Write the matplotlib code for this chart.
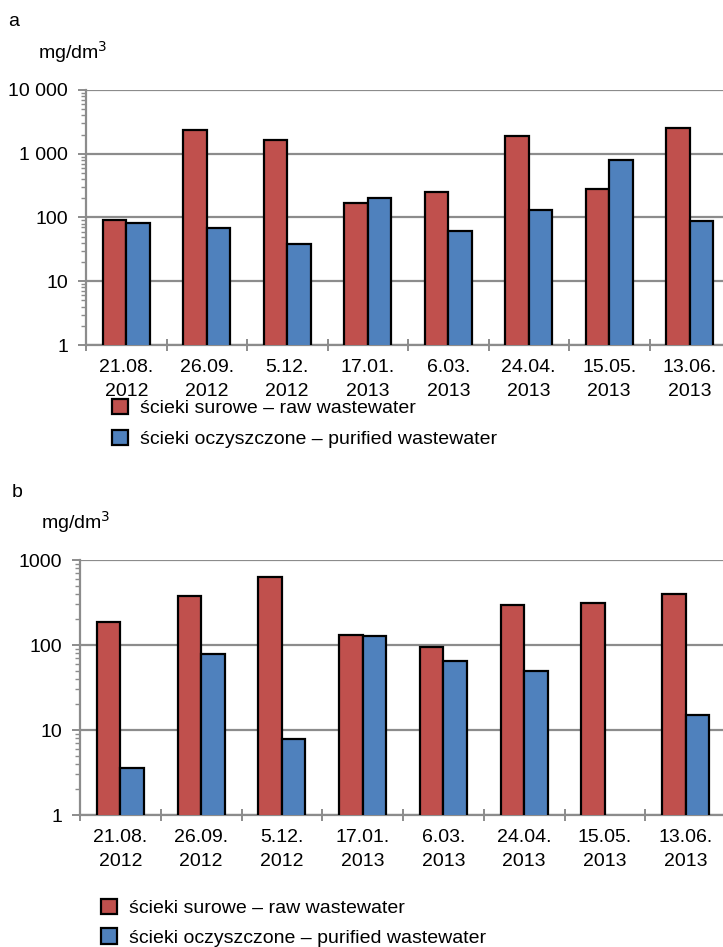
import numpy as np
import matplotlib
matplotlib.use("Agg")
import matplotlib.pyplot as plt
from matplotlib.ticker import FixedLocator, LogLocator, NullFormatter, FixedFormatter

plt.rcParams['font.family'] = ['Liberation Sans', 'DejaVu Sans']
plt.rcParams['font.size'] = 14

dates = ['21.08.\n2012', '26.09.\n2012', '5.12.\n2012', '17.01.\n2013',
         '6.03.\n2013', '24.04.\n2013', '15.05.\n2013', '13.06.\n2013']

# panel a
raw_a = [91, 2320, 1620, 166, 247, 1890, 275, 2490]
pur_a = [81, 69, 38, 204, 62, 129, 785, 88]
yticks_a = [1, 10, 100, 1000, 10000]
ylabels_a = ['1', '10', '100', '1 000', '10 000']

# panel b
raw_b = [186, 377, 624, 132, 96, 298, 309, 402]
pur_b = [3.55, 78, 7.8, 128, 64, 49, np.nan, 15]
yticks_b = [1, 10, 100, 1000]
ylabels_b = ['1', '10', '100', '1000']

names = ['ścieki surowe – raw wastewater', 'ścieki oczyszczone – purified wastewater']
RED = '#C0504D'
BLUE = '#4F81BD'
GRID = '#8c8c8c'

fig = plt.figure(figsize=(7.23, 9.47), dpi=100)


def draw(ax, raw, pur, yticks, ylabels):
    x = np.arange(len(dates))
    w = 0.29
    ax.bar(x - w / 2, raw, w, color=RED, edgecolor='black', linewidth=1.6, zorder=3, label=names[0])
    ax.bar(x + w / 2, pur, w, color=BLUE, edgecolor='black', linewidth=1.6, zorder=3, label=names[1])
    ax.set_yscale('log')
    ax.set_ylim(yticks[0], yticks[-1])
    ax.set_xlim(-0.5, len(dates) - 0.5)
    ax.yaxis.set_major_locator(FixedLocator(yticks))
    ax.yaxis.set_major_formatter(FixedFormatter(ylabels))
    ax.yaxis.set_minor_locator(LogLocator(base=10, subs=np.arange(2, 10)))
    ax.yaxis.set_minor_formatter(NullFormatter())
    ax.grid(axis='y', which='major', color=GRID, linewidth=1.6, zorder=0)
    for s in ['top', 'right']:
        ax.spines[s].set_visible(False)
    for s in ['left', 'bottom']:
        ax.spines[s].set_color(GRID)
        ax.spines[s].set_linewidth(1.6)
    ax.tick_params(axis='y', which='major', length=6, width=1.4, color=GRID, pad=7)
    ax.tick_params(axis='y', which='minor', length=3.5, width=1.0, color=GRID)
    # category boundaries on x axis
    ax.set_xticks(np.arange(len(dates) + 1) - 0.5)
    ax.set_xticklabels([])
    ax.set_xticks(x, minor=True)
    ax.set_xticklabels(dates, minor=True, linespacing=1.55)
    ax.tick_params(axis='x', which='major', direction='inout', length=9, width=1.4, color=GRID)
    ax.tick_params(axis='x', which='minor', length=0, pad=10)
    ax.set_axisbelow(True)


ax1 = fig.add_axes([86 / 723, 1 - 345 / 947, 644 / 723, 255 / 947])
draw(ax1, raw_a, pur_a, yticks_a, ylabels_a)
fig.text(8 / 723, 1 - 22 / 947, 'a', va='center')
fig.text(38 / 723, 1 - 52 / 947, 'mg/dm$^3$', va='center')
ax1.legend(loc='upper left', bbox_to_anchor=(102 / 723, 1 - 389 / 947),
           bbox_transform=fig.transFigure, frameon=False, handlelength=0.85,
           handleheight=0.85, handletextpad=0.6, labelspacing=0.65, borderpad=0)

ax2 = fig.add_axes([80 / 723, 1 - 815 / 947, 646 / 723, 255 / 947])
draw(ax2, raw_b, pur_b, yticks_b, ylabels_b)
fig.text(12 / 723, 1 - 492 / 947, 'b', va='center')
fig.text(41 / 723, 1 - 522 / 947, 'mg/dm$^3$', va='center')
ax2.legend(loc='upper left', bbox_to_anchor=(91 / 723, 1 - 889 / 947),
           bbox_transform=fig.transFigure, frameon=False, handlelength=0.85,
           handleheight=0.85, handletextpad=0.6, labelspacing=0.58, borderpad=0)

fig.savefig('out.png', dpi=100)
